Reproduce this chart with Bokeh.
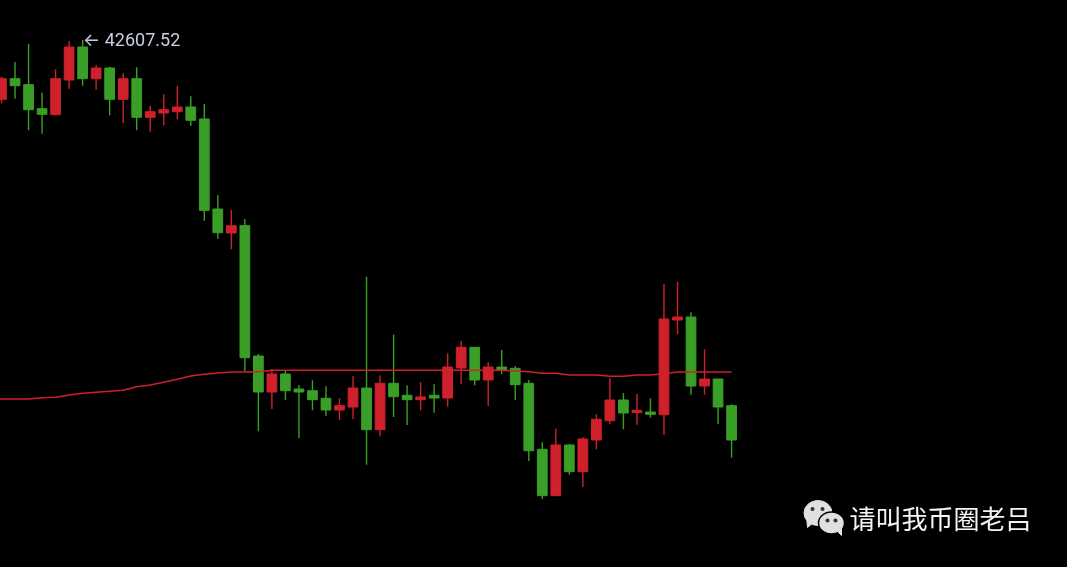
from bokeh.plotting import figure
from bokeh.models import Range1d
from bokeh.core.properties import value
from bokeh.embed import file_html
from bokeh.resources import INLINE

high = [42241,42388,42568,42081,42315,42598,42607.52,42358,42341,42278,42335,41951,42065,42151,42045,41968,41055,40908,40818,
        39468,39318,39298,39158,39205,39145,39025,39245,40241,39255,39661,39155,39185,39165,39475,39598,39538,39388,39508,39348,
        39208,38585,38721,38568,38635,38865,39225,39078,39068,39025,40168,40188,39885,39515,39218,38965]
low = [41975,42021,41705,41671,41855,42121,42151,42111,41855,41775,41705,41691,41755,41815,41751,40801,40618,40515,39298,
       38695,38918,39008,38625,38905,38848,38808,38818,38361,38645,38838,38758,38905,38881,38941,39168,39155,38948,39268,39008,
       38398,38018,38048,38261,38138,38515,38765,38715,38761,38831,38658,39668,39061,39061,38768,38431]
open_ = [42015,42221,42161,41921,41861,42208,42538,42221,42328,42015,42221,41835,41878,41891,41938,41818,40918,40678,40751,
         39448,39088,39268,39118,39101,39025,38908,38938,39128,38711,39175,39055,39011,39055,39028,39328,39535,39208,39338,39325,
         39175,38515,38051,38558,38291,38608,38801,39008,38881,38888,38861,39808,39838,39148,39218,38951]
close = [42221,42151,41911,41865,42221,42538,42221,42328,42015,42221,41835,41891,41911,41938,41805,40905,40681,40751,39431,
         39088,39268,39101,39088,39011,38908,38951,39128,38711,39175,39041,39011,39038,39028,39338,39535,39208,39338,39308,39161,
         38501,38051,38558,38291,38618,38815,39008,38878,38905,38865,39818,39838,39148,39218,38938,38608]
# moving average starts one bar before the first visible candle
ma = [39018,39018,39018,39018,39031,39035,39058,39075,39085,39095,39105,39141,39158,39185,39215,39248,39265,39278,39288,39288,39291,
      39305,39305,39305,39305,39305,39305,39305,39305,39305,39305,39305,39305,39305,39305,39305,39305,39305,39305,
      39298,39291,39275,39275,39258,39258,39258,39245,39245,39258,39258,39271,39288,39288,39288,39288,39288]
peak_label = "\u2190 42607.52"
watermark = "\u8bf7\u53eb\u6211\u5e01\u5708\u8001\u5415"

UP = "#cf212b"
DOWN = "#3a9f26"
W, H = 1068, 568

idx = list(range(len(close)))
p = figure(width=W, height=H, output_backend="svg", toolbar_location=None,
           x_range=Range1d(-0.148, 78.847), y_range=Range1d(37333, 43013),
           background_fill_color="#000000", border_fill_color="#000000",
           min_border=0, outline_line_color=None)
p.axis.visible = False
p.grid.visible = False
p.styles = {"position": "fixed", "left": "-1px", "top": "-1px"}
p.extra_x_ranges["px"] = Range1d(0, W)
p.extra_y_ranges["px"] = Range1d(H, 0)

colors = [UP if c >= o else DOWN for o, c in zip(open_, close)]
p.segment(idx, high, idx, low, color=colors, line_width=1.4)
p.vbar(idx, 0.72, [max(o, c) for o, c in zip(open_, close)], [min(o, c) for o, c in zip(open_, close)],
       fill_color=colors, line_color=colors, line_width=1)
p.line(list(range(-1, len(close))), ma, line_color=UP, line_width=1.5)

p.text([6.0], [42607.52], text=[peak_label], text_color="#c9cde0", text_font=value("Roboto, Inter"),
       text_font_size="18px", text_baseline="middle", x_offset=[0.5], y_offset=[-0.5])

# watermark: chat bubbles and name, placed on the page's pixel grid
EXTRA = dict(x_range_name="px", y_range_name="px")
ic = "#e0e0e0"
p.patch([807, 808, 814], [517, 528, 523], fill_color=ic, line_color=ic, **EXTRA)
p.ellipse([818.5], [513.5], width=28, height=25, fill_color=ic, line_color=ic, **EXTRA)
p.ellipse([832], [523.5], width=26, height=22, fill_color=ic, line_color="#000000", line_width=1.5, **EXTRA)
p.patch([837, 842, 842], [531, 536, 528], fill_color=ic, line_color=ic, **EXTRA)
p.scatter([813, 823, 828, 836], [509.5, 509.5, 521, 521], size=4, marker="circle",
          fill_color="#333333", line_color=None, **EXTRA)
p.text([850], [518], text=[watermark], text_color="#f4f4f4", text_font=value("Noto Sans CJK SC"),
       text_font_size="26px", text_baseline="middle", **EXTRA)

open("out.html", "w").write(file_html(p, INLINE))
